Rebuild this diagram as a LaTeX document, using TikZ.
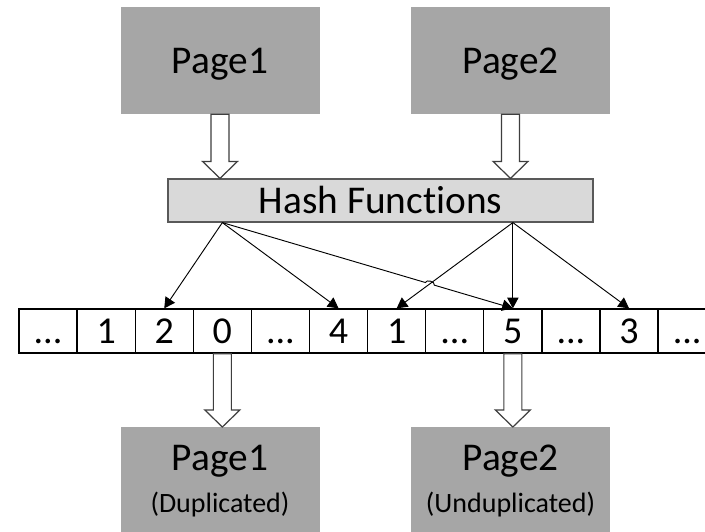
\documentclass[tikz,border=0pt]{standalone}
\usepackage{fontspec}
\setmainfont{Carlito}[Ligatures=CommonOff]
\usetikzlibrary{arrows.meta, calc, intersections}
\definecolor{pagegray}{HTML}{A6A6A6}
\definecolor{hashgray}{HTML}{D9D9D9}
\definecolor{edgegray}{HTML}{595959}
% gap marker in the array
\newcommand{\elid}{...}
% wide hollow arrow pointing down from #1 to the level of #2
\newcommand{\fatdown}[2]{%
  \draw[hollow] ($(#1)+(-9,0)$) -- ($(#1 |- #2)+(-9,-17)$) -- ($(#1 |- #2)+(-17.5,-17)$)
    -- (#1 |- #2) -- ($(#1 |- #2)+(17.5,-17)$) -- ($(#1 |- #2)+(9,-17)$) -- ($(#1)+(9,0)$) -- cycle;}
\tikzset{
  bigtxt/.style={font=\fontsize{29.5}{32}\selectfont, text height=19pt, text depth=0pt},
  smalltxt/.style={font=\fontsize{21}{24}\selectfont},
  page/.style={fill=pagegray, minimum width=149.25pt, minimum height=80.25pt, inner sep=0pt},
  hashbox/.style={fill=hashgray, draw=edgegray, line width=0.9pt, minimum width=318.75pt,
    minimum height=32.25pt, inner sep=0pt, bigtxt},
  cell/.style={draw, fill=white, line width=1pt, minimum width=43.6pt, minimum height=33pt,
    inner sep=0pt, font=\fontsize{28.5}{30}\selectfont, text height=18pt, text depth=0pt},
  hollow/.style={fill=white, draw=edgegray!70!black, line width=0.9pt},
  link/.style={-{Triangle[length=8pt, width=8.5pt]}, line width=0.7pt},
}
\begin{document}
\begin{tikzpicture}[x=0.75pt, y=-0.75pt]
  \clip (0,0) rectangle (705,531);
  % incoming pages
  \node[page, bigtxt] (top1) at (220,60.5) {Page1};
  \node[page, bigtxt] (top2) at (510.5,60.5) {Page2};
  % hashing stage
  \node[hashbox] (hash) at (380.5,200.5) {Hash Functions};
  % counter array
  \foreach \v [count=\i from 0] in {\elid,1,2,0,\elid,4,1,\elid,5,\elid,3,\elid}
    \node[cell] (c\i) at ({48.05+58.1*\i},331) {\v};
  % result pages
  \node[page, anchor=north, minimum height=90pt] (bot1) at (220,427) {};
  \node[page, anchor=north, minimum height=90pt] (bot2) at (510.5,427) {};
  \node[bigtxt, anchor=base] (bot1name) at (220,470) {Page1};
  \node[smalltxt, anchor=base] (bot1note) at (220,512) {(Duplicated)};
  \node[bigtxt, anchor=base] (bot2name) at (510.5,470) {Page2};
  \node[smalltxt, anchor=base] (bot2note) at (510.5,512) {(Unduplicated)};
  % page flow
  \fatdown{top1.south}{hash.north}
  \fatdown{top2.south}{hash.north}
  \fatdown{c3.south}{bot1.north}
  \fatdown{c8.south}{bot2.north}
  % hash outputs
  \coordinate (hl) at (hash.south -| c3);
  \coordinate (hr) at (hash.south -| c8);
  \draw[link] (hl) -- (c2.north);
  \draw[link] (hl) -- (c5.north);
  \draw[link, name path=cross] (hr) -- (c6.north);
  \draw[link] (hr) -- (c8.north);
  \draw[link] (hr) -- (c10.north);
  \path[name path=far] (hl) -- (c8.north);
  \path[name intersections={of=far and cross, by=hop}];
  \draw[link] (hl) -- ($(hop)!3.5pt!(hl)$) to[bend left=90] ($(hop)!3.5pt!(c8.north)$) -- (c8.north);
\end{tikzpicture}
\end{document}
